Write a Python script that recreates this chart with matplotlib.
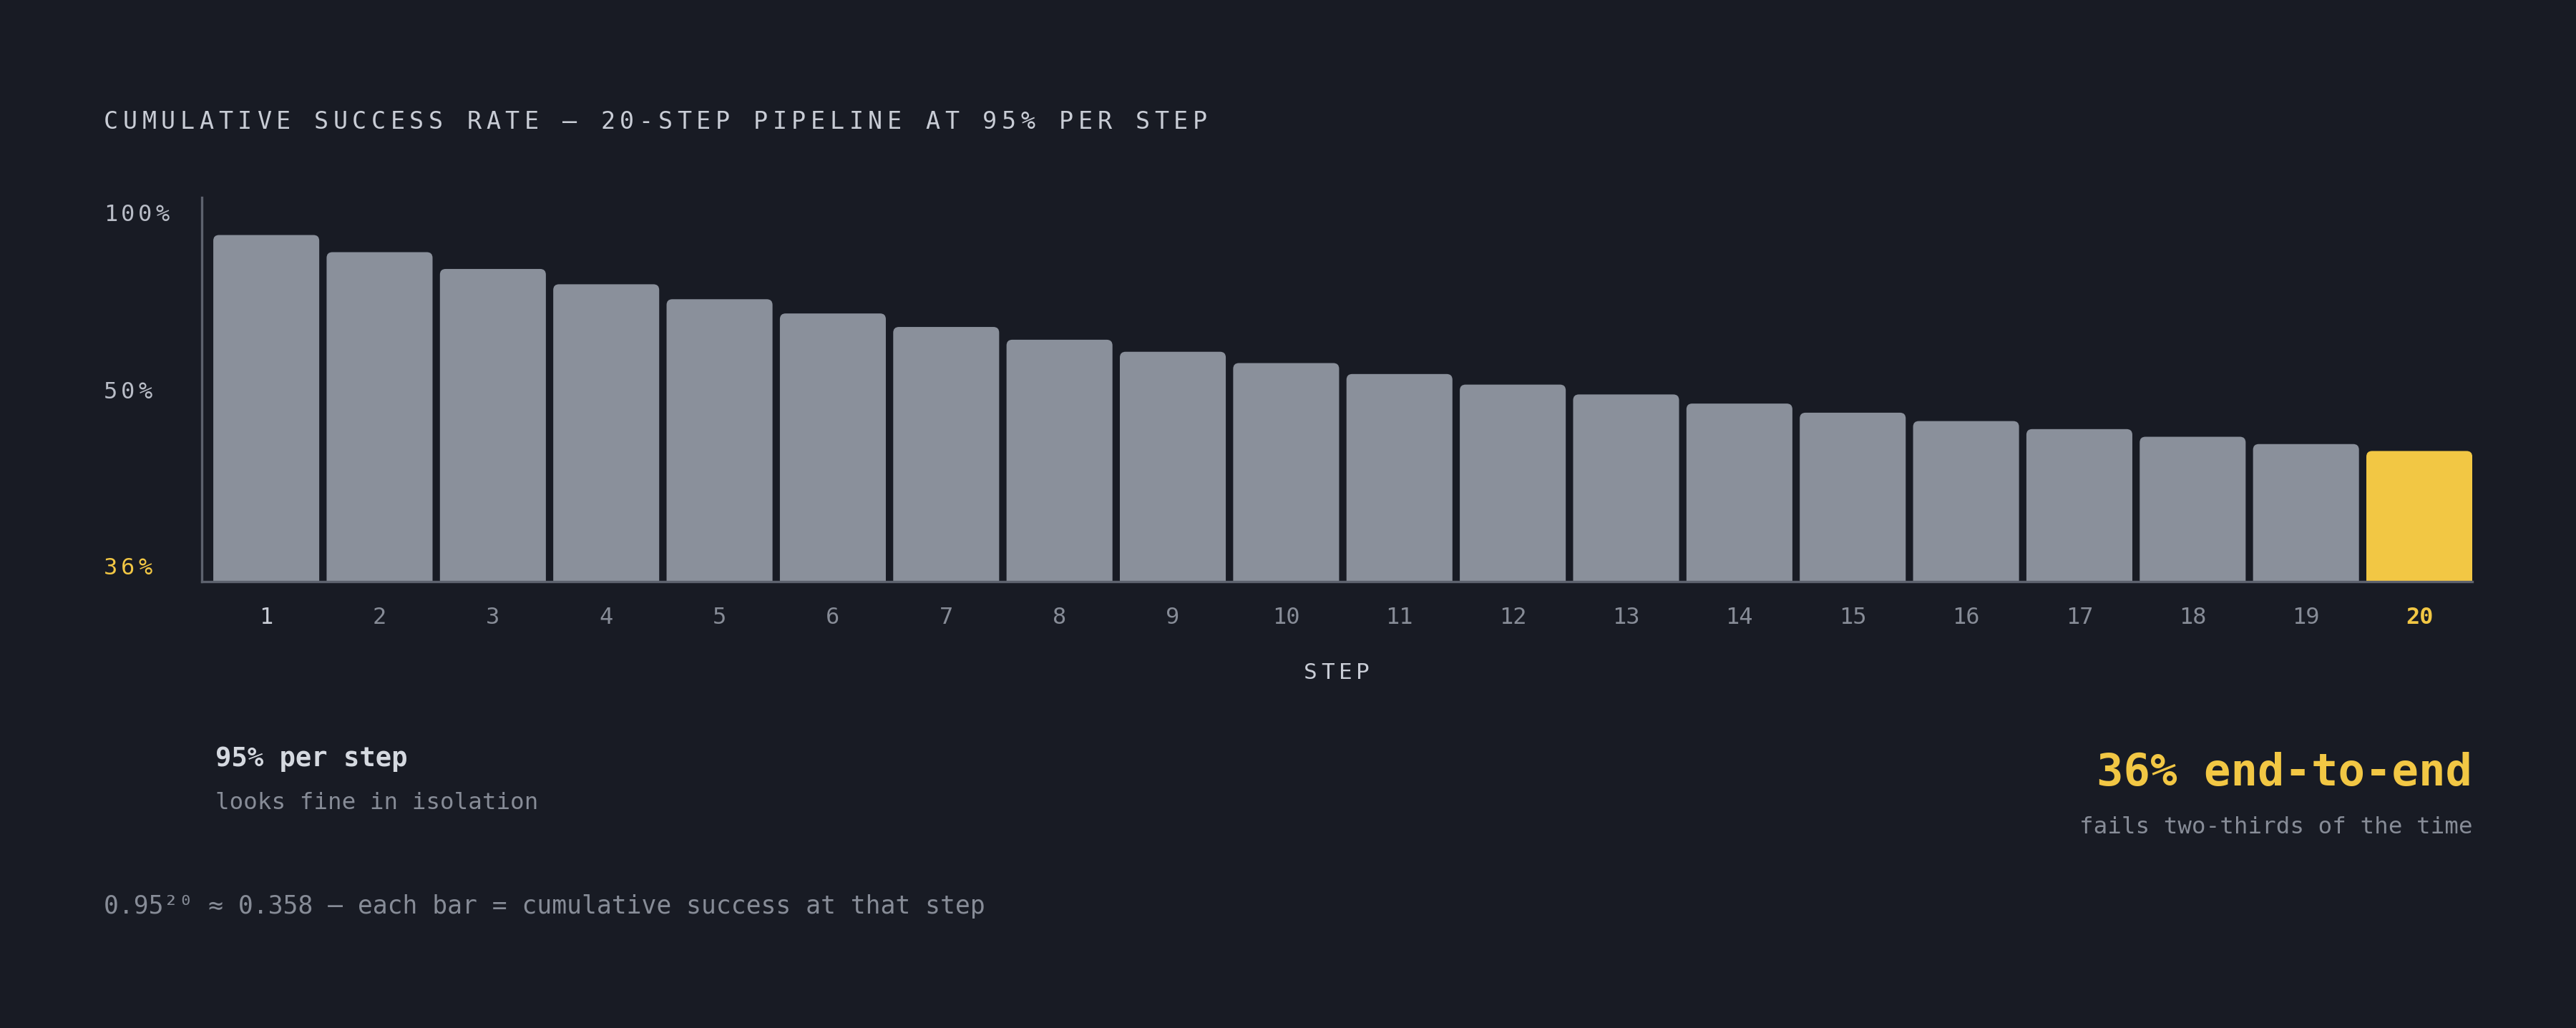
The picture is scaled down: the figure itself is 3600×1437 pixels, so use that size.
import matplotlib
matplotlib.use("Agg")
import matplotlib.pyplot as plt
from matplotlib.patches import FancyBboxPatch
from matplotlib.transforms import blended_transform_factory

# data
steps = list(range(1, 21))
success = [0.950, 0.903, 0.857, 0.815, 0.774, 0.735, 0.698, 0.663, 0.630, 0.599,
           0.569, 0.540, 0.513, 0.488, 0.463, 0.440, 0.418, 0.397, 0.377, 0.358]
step_labels = [str(s) for s in steps]
y_labels = ["100%", "50%", "36%"]

title = "CUMULATIVE SUCCESS RATE \u2014 20-STEP PIPELINE AT 95% PER STEP"
left_head = "95% per step"
left_sub = "looks fine in isolation"
right_head = "36% end-to-end"
right_sub = "fails two-thirds of the time"
footer = "0.95\u00b2\u2070 \u2248 0.358 \u2014 each bar = cumulative success at that step"

BG = "#181b24"
BAR = "#8a909b"
GOLD = "#f2c744"
LIGHT = "#c9cdd6"
GRAY = "#878c97"
AXIS = "#5d626e"
MONO = "DejaVu Sans Mono"

W, H, DPI = 3600, 1437, 200
fig = plt.figure(figsize=(W / DPI, H / DPI), dpi=DPI, facecolor=BG)

# axes box in pixels: left spine 282, right 3455, top 276, baseline 813
ax = fig.add_axes([282 / W, 1 - 813 / H, (3455 - 282) / W, (813 - 276) / H])
ax.set_facecolor(BG)
ax.set_xlim(0.431, 20.467)
ax.set_ylim(0, 1.053)
for side in ["top", "right"]:
    ax.spines[side].set_visible(False)
for side in ["left", "bottom"]:
    ax.spines[side].set_color(AXIS)
    ax.spines[side].set_linewidth(1.2)
ax.set_xticks([])
ax.set_yticks([])

# bars with rounded tops: the box starts below 0 and the axes clip its bottom corners
bar_w = 0.935
px_x = (3455 - 282) / (20.467 - 0.431)
px_y = (813 - 276) / 1.053
r_x = 8 / px_x
aspect = (8 / px_y) / r_x
below = 0.05
for s, v in zip(steps, success):
    c = GOLD if s == steps[-1] else BAR
    ax.add_patch(FancyBboxPatch((s - bar_w / 2, -below), bar_w, v + below,
                                boxstyle=f"round,pad=0,rounding_size={r_x}",
                                mutation_aspect=aspect, fc=c, ec="none", zorder=1))


def fy(y_px):
    return 1 - y_px / H


def spaced(x_px, y_px, s, size, adv, ha="left", **kw):
    natural = size * DPI / 72 * 0.602
    total = adv * (len(s) - 1) + natural
    if ha == "center":
        x_px -= total / 2
    elif ha == "right":
        x_px -= total
    for i, ch in enumerate(s):
        fig.text((x_px + i * adv) / W, fy(y_px), ch, fontsize=size, family=MONO,
                 ha="left", va="baseline", **kw)


spaced(145, 180, title, 12, 26.7, color=LIGHT)

# y labels
for lab, y_px, c in zip(y_labels, [309, 557, 803], ["#b9bdc7", "#b9bdc7", GOLD]):
    spaced(145, y_px, lab, 11.5, 24, color=c)

# step labels
tr = blended_transform_factory(ax.transData, fig.transFigure)
for s, lab in zip(steps, step_labels):
    if s == steps[-1]:
        ax.text(s, fy(872), lab, transform=tr, ha="center", va="baseline",
                fontsize=11.5, family=MONO, color=GOLD, fontweight="bold")
    else:
        ax.text(s, fy(872), lab, transform=tr, ha="center", va="baseline",
                fontsize=11.5, family=MONO, color=LIGHT if s == 1 else GRAY)

spaced(1868, 949, "STEP", 11.2, 24.3, ha="center", color=LIGHT)

fig.text(301 / W, fy(1071), left_head, fontsize=13.4, family=MONO,
         fontweight="bold", color="#d5d9e0", va="baseline")
fig.text(301 / W, fy(1131), left_sub, fontsize=11.7, family=MONO,
         color=GRAY, va="baseline")
fig.text(3455 / W, fy(1098), right_head, fontsize=22.4, family=MONO,
         fontweight="bold", color=GOLD, ha="right", va="baseline")
fig.text(3455 / W, fy(1165), right_sub, fontsize=11.7, family=MONO,
         color=GRAY, ha="right", va="baseline")
fig.text(145 / W, fy(1277), footer, fontsize=12.5, family=MONO,
         color=GRAY, va="baseline")

fig.savefig("out.png", dpi=DPI, facecolor=BG)
